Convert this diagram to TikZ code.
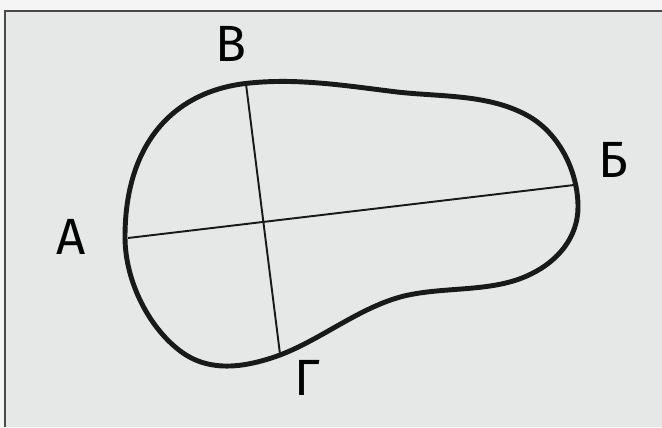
\documentclass[tikz,border=0pt]{standalone}
\usepackage{fontspec}
\setmainfont{Fira Sans}
\definecolor{paper}{HTML}{E6E8E7}
\definecolor{rim}{HTML}{4A4A4A}

\begin{document}
\begin{tikzpicture}[x=.02cm,y=-.02cm,
    outline/.style={black!90, line width=2.8pt},
    chord/.style={black!90, line width=1.1pt},
    letter/.style={font=\fontsize{29}{30}\selectfont}]
  \useasboundingbox (0,0) rectangle (662,427);
  \fill [white!96!black] (0,0) rectangle (662,427);
  \fill [paper] (5,11) rectangle (662,427);
  \draw [rim, line width=1.1pt] (5,427) -- (5,11) -- (662,11);
  % the closed outline
  \draw [outline] (125,237) .. controls +(0,-95) and +(-75,7) .. (250,83)
    .. controls +(49,-5) and +(-49,-6) .. (397,92)
    .. controls +(45,5) and +(-39,-23) .. (530,117)
    .. controls +(30,18) and +(0,-35) .. (578,207)
    .. controls +(0,30) and +(27,-13) .. (531,274)
    .. controls +(-38,19) and +(42,-10) .. (404,296)
    .. controls +(-44,11) and +(42,-16) .. (280,355)
    .. controls +(-33,12) and +(29,20) .. (183,353)
    .. controls +(-33,-23) and +(0,45) .. cycle;
  % chord ends
  \coordinate (a) at (128,238);
  \coordinate (b) at (574,185);
  \coordinate (v) at (246,84);
  \coordinate (g) at (280,354);
  \draw [chord] (a) -- (b);
  \draw [chord] (v) -- (g);
  % letters
  \node [letter] (alab) at (71,237) {А};
  \node [letter] (blab) at (613,160) {Б};
  \node [letter] (vlab) at (231,44) {В};
  \node [letter] (glab) at (307,378) {Г};
\end{tikzpicture}
\end{document}
